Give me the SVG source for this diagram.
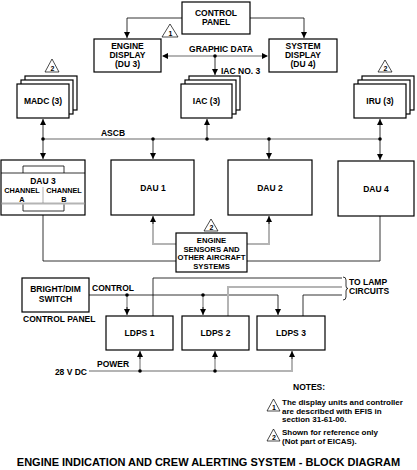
<svg xmlns="http://www.w3.org/2000/svg" width="417" height="470" viewBox="0 0 417 470">
<style>
text{font-family:"Liberation Sans",Arial,sans-serif;font-weight:bold;font-size:8.5px;fill:#000}
.c{text-anchor:middle}
.box{fill:#fff;stroke:#000;stroke-width:1.2}
.ln{fill:none;stroke:#000;stroke-width:0.8}
.gl{fill:none;stroke:#b4b4b4;stroke-width:2}
.tri{fill:#fff;stroke:#000;stroke-width:0.7}
.tn{font-size:7px}
.note{font-size:8px}
.ch{font-size:7.3px}
</style>
<defs>
<marker id="ah" markerUnits="userSpaceOnUse" markerWidth="7" markerHeight="6" refX="6" refY="3" orient="auto-start-reverse">
<path d="M0,0 L6,3 L0,6 z" fill="#000"/>
</marker>
</defs>
<rect width="417" height="470" fill="#fff"/>

<g id="connectors">
<polyline class="ln" points="182,18 127,18 127,38" marker-end="url(#ah)"/>
<polyline class="ln" points="250,18 304,18 304,38" marker-end="url(#ah)"/>
<line class="gl" x1="163" y1="56" x2="267" y2="56"/>
<line class="ln" x1="162" y1="56" x2="268" y2="56" stroke-opacity="0" marker-start="url(#ah)" marker-end="url(#ah)"/>
<line class="ln" x1="215" y1="56" x2="215" y2="75" marker-end="url(#ah)"/>
<line class="gl" x1="43" y1="139" x2="380" y2="139"/>
<line class="ln" x1="43" y1="139" x2="43" y2="119" marker-end="url(#ah)"/>
<line class="ln" x1="207" y1="139" x2="207" y2="119" marker-end="url(#ah)"/>
<line class="ln" x1="380" y1="139" x2="380" y2="119" marker-end="url(#ah)"/>
<line class="ln" x1="43" y1="139" x2="43" y2="159" marker-end="url(#ah)"/>
<line class="ln" x1="153" y1="139" x2="153" y2="159" marker-end="url(#ah)"/>
<line class="ln" x1="269" y1="139" x2="269" y2="159" marker-end="url(#ah)"/>
<line class="ln" x1="380" y1="139" x2="380" y2="160" marker-end="url(#ah)"/>
<polyline class="gl" points="176,244 153,244 153,222"/>
<line class="ln" x1="153" y1="224" x2="153" y2="216" marker-end="url(#ah)"/>
<polyline class="gl" points="247,244 269,244 269,222"/>
<line class="ln" x1="269" y1="224" x2="269" y2="216" marker-end="url(#ah)"/>
<polyline class="ln" points="43,211 43,261 176,261"/>
<polyline class="ln" points="247,261 380,261 380,216"/>
<polyline class="ln" points="89,295 278,295 278,315" marker-end="url(#ah)"/>
<line class="gl" x1="127" y1="295" x2="127" y2="309"/>
<line class="ln" x1="127" y1="307" x2="127" y2="315" marker-end="url(#ah)"/>
<line class="gl" x1="203" y1="295" x2="203" y2="309"/>
<line class="ln" x1="203" y1="307" x2="203" y2="315" marker-end="url(#ah)"/>
<polyline class="gl" points="89,371 292,371 292,357"/>
<line class="ln" x1="292" y1="359" x2="292" y2="351" marker-end="url(#ah)"/>
<line class="gl" x1="140" y1="371" x2="140" y2="357"/>
<line class="ln" x1="140" y1="359" x2="140" y2="351" marker-end="url(#ah)"/>
<line class="gl" x1="215" y1="371" x2="215" y2="357"/>
<line class="ln" x1="215" y1="359" x2="215" y2="351" marker-end="url(#ah)"/>
<polyline class="ln" points="153,316 153,278 342,278"/>
<polyline class="gl" points="228,316 228,287 342,287"/>
<polyline class="ln" points="303,316 303,295 342,295"/>
<path class="ln" d="M343,277 q3,0 3,3 v6 q0,2.5 2,2.5 q-2,0 -2,2.5 v6 q0,3 -3,3"/>
<g fill="#000">
<circle cx="215" cy="56" r="1.8"/>
<circle cx="43" cy="139" r="1.8"/>
<circle cx="153" cy="139" r="1.8"/>
<circle cx="207" cy="139" r="1.8"/>
<circle cx="269" cy="139" r="1.8"/>
<circle cx="380" cy="139" r="1.8"/>
<circle cx="127" cy="295" r="1.8"/>
<circle cx="203" cy="295" r="1.8"/>
<circle cx="140" cy="371" r="1.8"/>
<circle cx="215" cy="371" r="1.8"/>
</g>
<text x="221" y="52" class="c">GRAPHIC DATA</text>
<text x="221" y="74">IAC NO. 3</text>
<text x="113" y="136" class="c">ASCB</text>
<text x="92" y="291">CONTROL</text>
<text x="97" y="367">POWER</text>
<text x="87" y="375" text-anchor="end">28 V DC</text>
<text x="349" y="285">TO LAMP</text>
<text x="349" y="294">CIRCUITS</text>
</g>

<g id="control-panel">
<rect class="box" x="182" y="2" width="68" height="32"/>
<text x="216" y="16" class="c">CONTROL</text>
<text x="216" y="25" class="c">PANEL</text>
</g>

<g id="engine-display">
<rect class="box" x="94" y="39" width="67" height="33"/>
<text x="127.5" y="49" class="c">ENGINE</text>
<text x="127.5" y="58" class="c">DISPLAY</text>
<text x="127.5" y="67" class="c">(DU 3)</text>
<path class="tri" d="M170,24 L178,37 L162,37 z"/>
<text x="170.5" y="35.5" class="c tn">1</text>
</g>

<g id="system-display">
<rect class="box" x="269" y="39" width="68" height="33"/>
<text x="303" y="49" class="c">SYSTEM</text>
<text x="303" y="58" class="c">DISPLAY</text>
<text x="303" y="67" class="c">(DU 4)</text>
</g>

<g id="madc">
<rect class="box" x="25" y="76" width="52" height="34"/>
<rect class="box" x="21" y="80" width="52" height="34"/>
<rect class="box" x="17" y="84" width="52" height="34"/>
<text x="43" y="104" class="c">MADC (3)</text>
<path class="tri" d="M52,59 L59,72 L45,72 z"/>
<text x="52.5" y="70.5" class="c tn">2</text>
</g>

<g id="iac">
<rect class="box" x="189" y="76" width="51" height="34"/>
<rect class="box" x="185" y="80" width="51" height="34"/>
<rect class="box" x="181" y="84" width="51" height="34"/>
<text x="206.5" y="104" class="c">IAC (3)</text>
</g>

<g id="iru">
<rect class="box" x="362" y="76" width="52" height="34"/>
<rect class="box" x="358" y="80" width="52" height="34"/>
<rect class="box" x="354" y="84" width="52" height="34"/>
<text x="380" y="104" class="c">IRU (3)</text>
<path class="tri" d="M385,60 L392,72 L378,72 z"/>
<text x="385.5" y="70.5" class="c tn">2</text>
</g>

<g id="dau3">
<rect class="box" x="1" y="160" width="84" height="55"/>
<path class="ln" d="M23,173 V166 H64 V173 M1,173 H85"/>
<line class="gl" x1="1.6" y1="203.5" x2="84.4" y2="203.5"/>
<path class="ln" d="M23,204.5 V211 H64 V204.5"/>
<line x1="43" y1="187" x2="43" y2="203" stroke="#777" stroke-width="0.6"/>
<text x="43" y="184" class="c">DAU 3</text>
<text x="22" y="192.5" class="c ch">CHANNEL</text>
<text x="64" y="192.5" class="c ch">CHANNEL</text>
<text x="22" y="201.5" class="c ch">A</text>
<text x="64" y="201.5" class="c ch">B</text>
</g>

<g id="dau1">
<rect class="box" x="111" y="160" width="83" height="55"/>
<text x="153" y="191" class="c">DAU 1</text>
</g>

<g id="dau2">
<rect class="box" x="228" y="160" width="84" height="55"/>
<text x="270" y="191" class="c">DAU 2</text>
</g>

<g id="dau4">
<rect class="box" x="338" y="161" width="76" height="55"/>
<text x="376" y="192" class="c">DAU 4</text>
</g>

<g id="engine-sensors">
<rect class="box" x="176" y="233" width="71" height="39"/>
<text x="211.5" y="243" class="c" style="font-size:7.7px">ENGINE</text>
<text x="211.5" y="251.5" class="c" style="font-size:7.7px">SENSORS AND</text>
<text x="211.5" y="260" class="c" style="font-size:7.7px">OTHER AIRCRAFT</text>
<text x="211.5" y="268.5" class="c" style="font-size:7.7px">SYSTEMS</text>
<path class="tri" d="M211,219 L218,231 L204,231 z"/>
<text x="211.5" y="229.5" class="c tn">2</text>
</g>

<g id="bright-dim-switch">
<rect class="box" x="22" y="278" width="67" height="34"/>
<text x="55.5" y="292" class="c">BRIGHT/DIM</text>
<text x="55.5" y="302" class="c">SWITCH</text>
<text x="23" y="322">CONTROL PANEL</text>
</g>

<g id="ldps1">
<rect class="box" x="106" y="316" width="67" height="34"/>
<text x="139.5" y="336" class="c">LDPS 1</text>
</g>

<g id="ldps2">
<rect class="box" x="182" y="316" width="67" height="34"/>
<text x="215.5" y="336" class="c">LDPS 2</text>
</g>

<g id="ldps3">
<rect class="box" x="257" y="316" width="68" height="34"/>
<text x="291" y="336" class="c">LDPS 3</text>
</g>

<g id="notes">
<text x="293" y="390">NOTES:</text>
<path class="tri" d="M273.5,399 L280,411 L267,411 z"/>
<text x="274" y="409.5" class="c tn">1</text>
<text x="282" y="405" class="note">The display units and controller</text>
<text x="282" y="413.5" class="note">are described with EFIS in</text>
<text x="282" y="422" class="note">section 31-61-00.</text>
<path class="tri" d="M273.5,429 L280,441 L267,441 z"/>
<text x="274" y="439.5" class="c tn">2</text>
<text x="282" y="435" class="note">Shown for reference only</text>
<text x="282" y="443.5" class="note">(Not part of EICAS).</text>
</g>

<text x="208.5" y="466" class="c" style="font-size:11px">ENGINE INDICATION AND CREW ALERTING SYSTEM - BLOCK DIAGRAM</text>
</svg>
